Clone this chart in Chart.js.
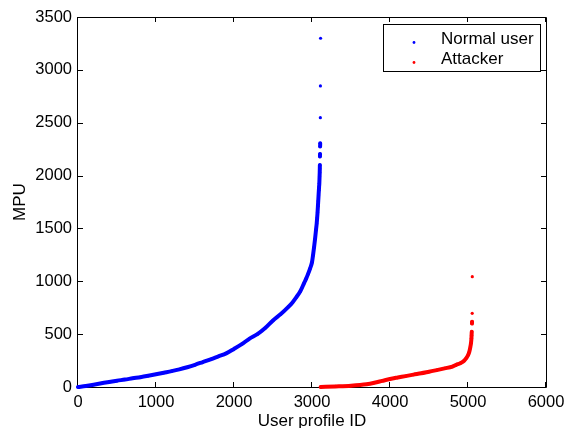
<!DOCTYPE html>
<html>
<head>
<meta charset="utf-8">
<script src="https://cdn.jsdelivr.net/npm/chart.js@4.4.1/dist/chart.umd.min.js"></script>
<style>
  html, body { margin: 0; padding: 0; background: #fff; overflow: hidden; }
</style>
</head>
<body>
<canvas id="mpuChart" width="564" height="428"></canvas>
<script>
// values
const normalX = [0, 100, 200, 300, 400, 500, 600, 700, 800, 900, 1000, 1100, 1200, 1300, 1400, 1500,
  1600, 1700, 1800, 1900, 2000, 2100, 2200, 2300, 2400, 2500, 2600, 2700, 2750, 2800, 2850, 2900,
  2925, 2950, 2975, 3000, 3013, 3026, 3039, 3052, 3060, 3066, 3071, 3076, 3080, 3084, 3088, 3091,
  3094, 3097, 3099, 3100, 3101, 3102, 3103, 3104, 3105, 3107, 3108, 3110];
const normalMPU = [0, 10, 22, 35, 48, 60, 70, 82, 93, 106, 120, 135, 150, 167, 187, 210,
  236, 262, 290, 318, 360, 405, 458, 500, 558, 630, 690, 760, 800, 850, 905, 985,
  1025, 1070, 1120, 1180, 1245, 1320, 1400, 1490, 1545, 1600, 1650, 1710, 1760, 1810, 1860, 1895,
  1927, 1990, 2030, 2065, 2100, 2180, 2205, 2275, 2305, 2548, 2848, 3299];

const attackerX = [3111, 3300, 3500, 3700, 3800, 3900, 4000, 4100, 4200, 4300, 4400, 4500, 4600,
  4700, 4800, 4850, 4900, 4950, 4980, 5000, 5017, 5030, 5038, 5044, 5046, 5048, 5051, 5052, 5054, 5055];
const attackerMPU = [0, 5, 12, 26, 40, 58, 76, 90, 103, 117, 130, 145, 160,
  176, 193, 210, 225, 248, 275, 300, 334, 378, 413, 460, 490, 523, 600, 618, 697, 1044];

const xTicks = [0, 1000, 2000, 3000, 4000, 5000, 6000];
const yTicks = [0, 500, 1000, 1500, 2000, 2500, 3000, 3500];

const FONT = "'Liberation Sans', Arial, sans-serif";

function toPoints(xs, ys) {
  return xs.map((x, i) => ({ x: x, y: ys[i] }));
}

// dense dots: join neighbours, but leave the gaps where sorted values jump straight up
function gapColor(color) {
  return ctx => {
    const dx = Math.abs(ctx.p1.x - ctx.p0.x);
    const dy = Math.abs(ctx.p1.y - ctx.p0.y);
    return (dy > 7 && dx < 0.5) ? 'rgba(0,0,0,0)' : color;
  };
}

const framePlugin = {
  id: 'frame',
  beforeDatasetsDraw(chart) {
    const { ctx, chartArea: a, scales } = chart;
    ctx.save();
    ctx.strokeStyle = '#000';
    ctx.lineWidth = 1;
    ctx.beginPath();
    ctx.rect(Math.round(a.left) - 0.5, Math.round(a.top) + 0.5,
      Math.round(a.right - a.left) + 1, Math.round(a.bottom - a.top));
    const len = 5;
    xTicks.forEach(v => {
      const px = Math.round(scales.x.getPixelForValue(v)) - 0.5;
      ctx.moveTo(px, a.bottom); ctx.lineTo(px, a.bottom - len);
      ctx.moveTo(px, a.top); ctx.lineTo(px, a.top + len);
    });
    yTicks.forEach(v => {
      const py = Math.round(scales.y.getPixelForValue(v)) + 0.5;
      ctx.moveTo(a.left, py); ctx.lineTo(a.left + len, py);
      ctx.moveTo(a.right, py); ctx.lineTo(a.right - len, py);
    });
    ctx.stroke();
    ctx.restore();
  }
};

const legendPlugin = {
  id: 'boxLegend',
  afterDraw(chart) {
    const { ctx } = chart;
    const left = 383.5, top = 24.5, w = 157, h = 47;
    ctx.save();
    ctx.fillStyle = '#fff';
    ctx.fillRect(left, top, w, h);
    ctx.strokeStyle = '#000';
    ctx.lineWidth = 1;
    ctx.strokeRect(left, top, w, h);
    ctx.font = '17px ' + FONT;
    ctx.textBaseline = 'middle';
    chart.data.datasets.forEach((ds, i) => {
      const cy = 39.5 + i * 20;
      ctx.fillStyle = ds.pointBackgroundColor;
      ctx.beginPath();
      ctx.arc(414, cy + 3, 1.4, 0, Math.PI * 2);
      ctx.fill();
      ctx.fillStyle = '#000';
      ctx.fillText(ds.label, 441, cy);
    });
    ctx.restore();
  }
};

function makeDataset(label, xs, ys, color) {
  return {
    label: label,
    data: toPoints(xs, ys),
    showLine: true,
    borderColor: color,
    borderWidth: 4,
    borderCapStyle: 'round',
    borderJoinStyle: 'round',
    cubicInterpolationMode: 'monotone',
    pointRadius: 1.6,
    pointBorderWidth: 0,
    pointBackgroundColor: color,
    pointHoverRadius: 1.6,
    clip: 6,
    segment: { borderColor: gapColor(color) }
  };
}

Chart.defaults.color = '#000';
Chart.defaults.font.family = FONT;

new Chart(document.getElementById('mpuChart'), {
  type: 'scatter',
  data: {
    datasets: [
      makeDataset('Normal user', normalX, normalMPU, '#0000ff'),
      makeDataset('Attacker', attackerX, attackerMPU, '#ff0000')
    ]
  },
  options: {
    responsive: false,
    animation: false,
    devicePixelRatio: 1,
    layout: { padding: { left: 0, right: 18, top: 17, bottom: 0 } },
    plugins: {
      legend: { display: false },
      tooltip: { enabled: false }
    },
    scales: {
      x: {
        type: 'linear',
        min: 0,
        max: 6000,
        afterBuildTicks: s => { s.ticks = xTicks.map(v => ({ value: v })); },
        grid: { display: false, drawTicks: false },
        border: { display: false },
        ticks: { padding: 6, font: { size: 16.5 }, maxRotation: 0, autoSkip: false, callback: v => String(v) },
        title: { display: true, text: 'User profile ID', font: { size: 17 }, padding: { top: 0, bottom: -4 } },
        afterFit: s => { s.height = 41; s.paddingLeft = 0; s.paddingRight = 0; }
      },
      y: {
        type: 'linear',
        min: 0,
        max: 3500,
        afterBuildTicks: s => { s.ticks = yTicks.map(v => ({ value: v })); },
        grid: { display: false, drawTicks: false },
        border: { display: false },
        ticks: { padding: 6, font: { size: 16.5 }, autoSkip: false, callback: v => String(v) },
        title: { display: true, text: 'MPU', font: { size: 17 }, padding: { top: 10, bottom: 0 } },
        afterFit: s => { s.width = 78; s.paddingTop = 0; s.paddingBottom = 0; }
      }
    }
  },
  plugins: [framePlugin, legendPlugin]
});
</script>
</body>
</html>
